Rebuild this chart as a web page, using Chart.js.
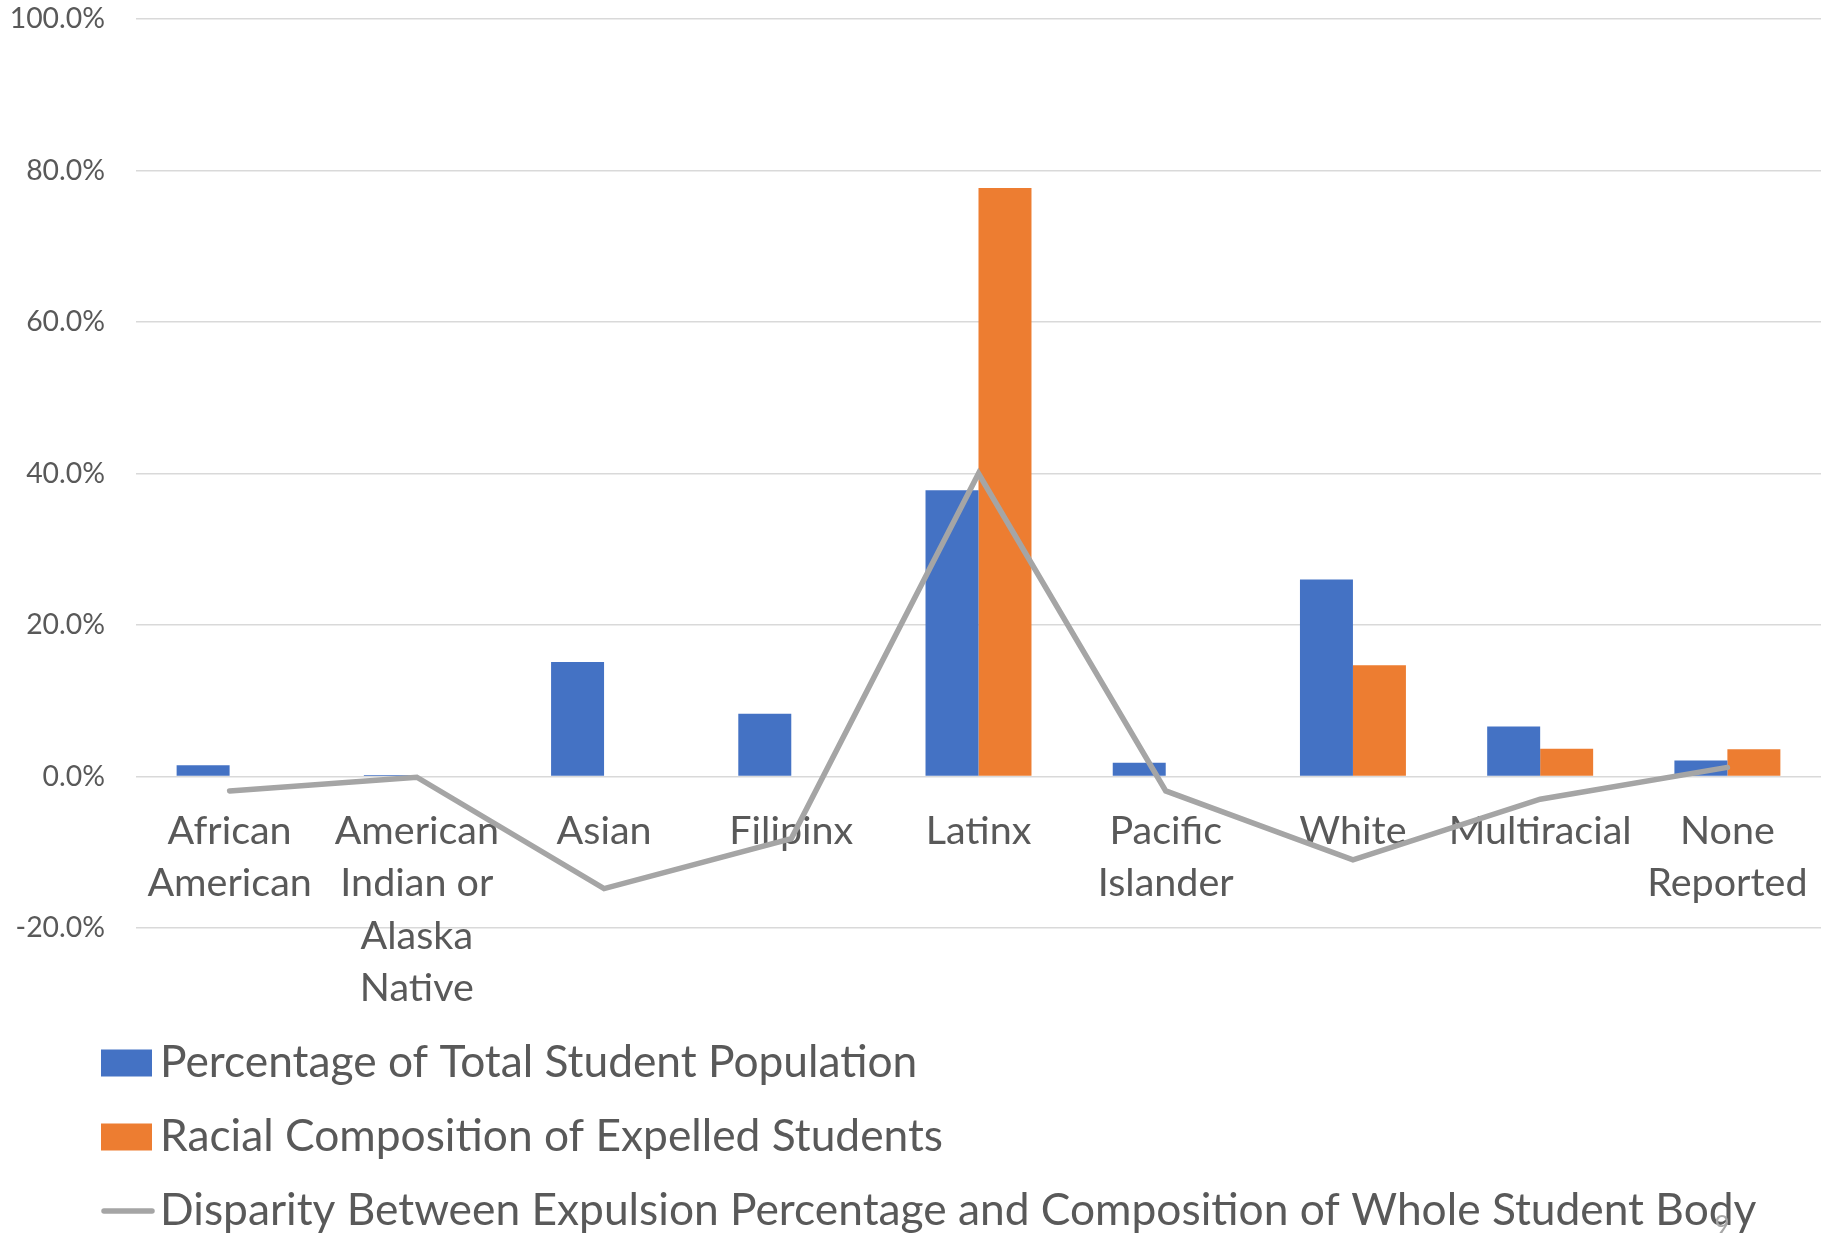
<!DOCTYPE html>
<html>
<head>
<meta charset="utf-8">
<script src="https://cdn.jsdelivr.net/npm/chart.js@4/dist/chart.umd.min.js"></script>
<style>
  html, body { margin: 0; padding: 0; background: #ffffff; }
  #wrap { width: 1827px; height: 1233px; position: relative; }
</style>
</head>
<body>
<div id="wrap"><canvas id="c" width="1827" height="1233"></canvas></div>
<script>
// Student groups along the x axis (multi-line labels as arrays)
const categories = [
  ['African', 'American'],
  ['American', 'Indian or', 'Alaska', 'Native'],
  'Asian',
  'Filipinx',
  'Latinx',
  ['Pacific', 'Islander'],
  'White',
  'Multiracial',
  ['None', 'Reported']
];

// Series values, in percent
const populationPct = [1.5, 0.2, 15.1, 8.3, 37.8, 1.8, 26.0, 6.6, 2.1];
const expelledPct   = [0, 0, 0, 0, 77.7, 0, 14.7, 3.65, 3.6];
const disparityPct  = [-1.9, -0.1, -14.8, -8.2, 40.0, -1.9, -11.0, -3.0, 1.2];

// Series names
const seriesLabels = [
  'Percentage of Total Student Population',
  'Racial Composition of Expelled Students',
  'Disparity Between Expulsion Percentage and Composition of Whole Student Body'
];

// Value axis range
const yMin = -20;
const yMax = 100;
const yStep = 20;

const FONT = 'Lato, "Noto Sans", sans-serif';
const TEXT = '#595959';
const GRID = '#D9D9D9';

// Legend drawn as a stacked list, one series per row, under the plot
const stackedLegend = {
  id: 'stackedLegend',
  afterDraw(chart, args, opts) {
    const ctx = chart.ctx;
    ctx.save();
    ctx.font = opts.fontSize + 'px ' + FONT;
    ctx.textBaseline = 'middle';
    ctx.textAlign = 'left';
    chart.data.datasets.forEach((ds, i) => {
      const yc = opts.top + i * opts.rowGap;
      if (ds.type === 'line') {
        ctx.strokeStyle = ds.borderColor;
        ctx.lineWidth = ds.borderWidth;
        ctx.lineCap = 'round';
        ctx.beginPath();
        ctx.moveTo(opts.left + 3, yc);
        ctx.lineTo(opts.left + opts.boxW, yc);
        ctx.stroke();
      } else {
        ctx.fillStyle = ds.backgroundColor;
        ctx.fillRect(opts.left, yc - opts.boxH / 2, opts.boxW, opts.boxH);
      }
      ctx.fillStyle = TEXT;
      ctx.fillText(ds.label, opts.left + opts.boxW + opts.gap, yc + opts.textShift);
    });
    // small page number in the lower right corner
    ctx.font = '26px ' + FONT;
    ctx.fillStyle = '#A6A6A6';
    ctx.textAlign = 'center';
    ctx.textBaseline = 'top';
    ctx.fillText('9', 1722, 1214);
    ctx.restore();
  }
};

// keep axis label overhang from pushing the plot area inward
const noScalePadding = s => {
  s.paddingLeft = 0; s.paddingRight = 0; s.paddingTop = 0; s.paddingBottom = 0;
};

new Chart(document.getElementById('c'), {
  type: 'bar',
  data: {
    labels: categories,
    datasets: [
      {
        type: 'bar',
        label: seriesLabels[0],
        data: populationPct,
        backgroundColor: '#4472C4',
        order: 1,
        categoryPercentage: 0.566,
        barPercentage: 1.0
      },
      {
        type: 'bar',
        label: seriesLabels[1],
        data: expelledPct,
        backgroundColor: '#ED7D31',
        order: 1,
        categoryPercentage: 0.566,
        barPercentage: 1.0
      },
      {
        type: 'line',
        label: seriesLabels[2],
        data: disparityPct,
        borderColor: '#A5A5A5',
        backgroundColor: '#A5A5A5',
        borderWidth: 5.5,
        borderCapStyle: 'round',
        borderJoinStyle: 'miter',
        pointRadius: 0,
        pointHoverRadius: 0,
        tension: 0,
        fill: false,
        order: 0
      }
    ]
  },
  options: {
    responsive: false,
    animation: false,
    devicePixelRatio: 1,
    layout: {
      padding: { left: 12, right: 6, top: 19, bottom: 305 }
    },
    plugins: {
      legend: { display: false },
      tooltip: { enabled: false },
      stackedLegend: {
        left: 101, top: 1063, rowGap: 74,
        boxW: 51, boxH: 27, gap: 8, fontSize: 44.3, textShift: 0
      }
    },
    scales: {
      x: {
        position: { y: 0 },
        afterFit: noScalePadding,
        grid: { display: false, drawTicks: false },
        border: { display: false },
        ticks: {
          color: TEXT,
          font: { family: FONT, size: 39.5, lineHeight: 1.32 },
          padding: 29,
          maxRotation: 0,
          autoSkip: false
        }
      },
      y: {
        min: yMin,
        max: yMax,
        afterFit: s => { noScalePadding(s); s.width = 124; },
        grid: { color: GRID, lineWidth: 1.5, drawTicks: false },
        border: { display: false },
        ticks: {
          stepSize: yStep,
          color: TEXT,
          font: { family: FONT, size: 28.4 },
          padding: 31,
          callback: v => v.toFixed(1) + '%'
        }
      }
    }
  },
  plugins: [stackedLegend]
});
</script>
</body>
</html>
